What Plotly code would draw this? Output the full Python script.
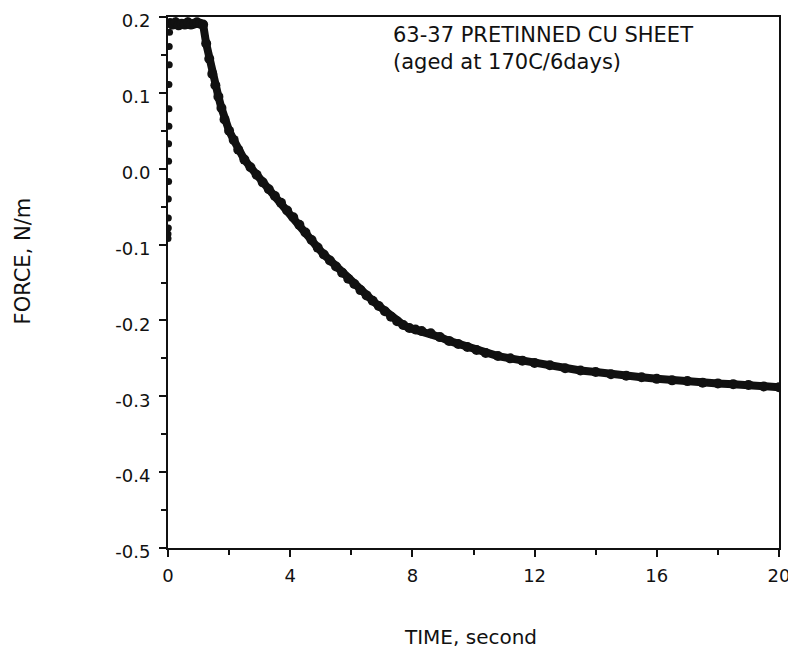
import plotly.graph_objects as go

# Rise at time zero (dots along the left axis)
rise_time = [0.0, 0.0, 0.01, 0.01, 0.01, 0.02, 0.02, 0.02, 0.03, 0.03, 0.03, 0.04, 0.04, 0.05]
rise_force = [-0.092, -0.086, -0.078, -0.065, -0.040, -0.017, 0.010, 0.033, 0.056, 0.079, 0.111, 0.137, 0.161, 0.180]

# Main curve
time_s = [0.06, 0.15, 0.25, 0.35, 0.45, 0.55, 0.65, 0.75, 0.85, 0.95, 1.05, 1.15,
          1.25, 1.35, 1.45, 1.55, 1.65, 1.75, 1.85, 2.0, 2.15, 2.3, 2.5, 2.7, 2.9,
          3.1, 3.3, 3.5, 3.7, 3.9, 4.1, 4.3, 4.5, 4.7, 4.9, 5.1, 5.3, 5.5, 5.7, 5.9,
          6.1, 6.3, 6.5, 6.7, 6.9, 7.1, 7.3, 7.5, 7.7, 7.9, 8.1, 8.3, 8.6, 8.9, 9.2,
          9.5, 9.8, 10.1, 10.4, 10.8, 11.2, 11.6, 12.0, 12.5, 13.0, 13.5, 14.0, 14.5,
          15.0, 15.5, 16.0, 16.5, 17.0, 17.5, 18.0, 18.5, 19.0, 19.5, 20.0]
force_nm = [0.192, 0.190, 0.193, 0.189, 0.191, 0.190, 0.193, 0.190, 0.191, 0.193, 0.191, 0.190,
            0.165, 0.145, 0.125, 0.110, 0.095, 0.080, 0.065, 0.050, 0.038, 0.025, 0.012, 0.002, -0.008,
            -0.018, -0.027, -0.036, -0.045, -0.055, -0.064, -0.074, -0.084, -0.094, -0.104, -0.113, -0.121, -0.129, -0.137, -0.145,
            -0.152, -0.160, -0.167, -0.174, -0.181, -0.188, -0.195, -0.201, -0.206, -0.210, -0.212, -0.214, -0.217, -0.222, -0.227,
            -0.231, -0.235, -0.239, -0.243, -0.247, -0.250, -0.253, -0.256, -0.259, -0.263, -0.266, -0.268, -0.271,
            -0.273, -0.275, -0.277, -0.279, -0.280, -0.282, -0.283, -0.284, -0.285, -0.287, -0.288]

x_ticks = [0, 4, 8, 12, 16, 20]
x_tick_labels = ["0", "4", "8", "12", "16", "20"]
y_ticks = [0.2, 0.1, 0.0, -0.1, -0.2, -0.3, -0.4, -0.5]
y_tick_labels = ["0.2", "0.1", "0.0", "-0.1", "-0.2", "-0.3", "-0.4", "-0.5"]

font_family = "DejaVu Sans, Arial, sans-serif"
ink = "#111"

fig = go.Figure()
fig.add_trace(go.Scatter(x=rise_time, y=rise_force, mode="markers",
                         marker=dict(color=ink, size=7), showlegend=False))
fig.add_trace(go.Scatter(x=time_s, y=force_nm, mode="lines+markers",
                         line=dict(color=ink, width=8),
                         marker=dict(color=ink, size=10), showlegend=False))

fig.add_annotation(x=7.3, y=0.195, xref="x", yref="y", xanchor="left", yanchor="top",
                   align="left", showarrow=False,
                   text="63-37 PRETINNED CU SHEET<br>(aged at 170C/6days)",
                   font=dict(family=font_family, size=21, color=ink))

# axis titles placed as paper annotations
fig.add_annotation(x=0.495, y=-0.168, xref="paper", yref="paper", xanchor="center", yanchor="middle",
                   showarrow=False, text="TIME, second",
                   font=dict(family=font_family, size=20, color=ink))
fig.add_annotation(x=-0.237, y=0.54, xref="paper", yref="paper", xanchor="center", yanchor="middle",
                   showarrow=False, text="FORCE, N/m", textangle=-90,
                   font=dict(family=font_family, size=21, color=ink))

axis_common = dict(showgrid=False, zeroline=False, showline=True, linecolor=ink,
                   linewidth=2, mirror=True, ticks="outside", tickcolor=ink,
                   tickwidth=2, ticklen=7, ticklabeloverflow="allow", automargin=False,
                   tickfont=dict(family=font_family, size=18, color=ink))

fig.update_xaxes(range=[0, 20], tickvals=x_ticks, ticktext=x_tick_labels,
                 ticklabelstandoff=3,
                 minor=dict(dtick=2, ticks="outside", ticklen=5, tickwidth=2, tickcolor=ink),
                 **axis_common)
fig.update_yaxes(range=[-0.5, 0.2], tickvals=y_ticks, ticktext=y_tick_labels,
                 ticklabelstandoff=5, ticklabelshift=4,
                 minor=dict(dtick=0.05, ticks="outside", ticklen=5, tickwidth=2, tickcolor=ink),
                 **axis_common)

fig.update_layout(width=788, height=643, plot_bgcolor="white", paper_bgcolor="white",
                  margin=dict(l=160, r=17, t=9, b=103))

fig.write_html("out.html")
